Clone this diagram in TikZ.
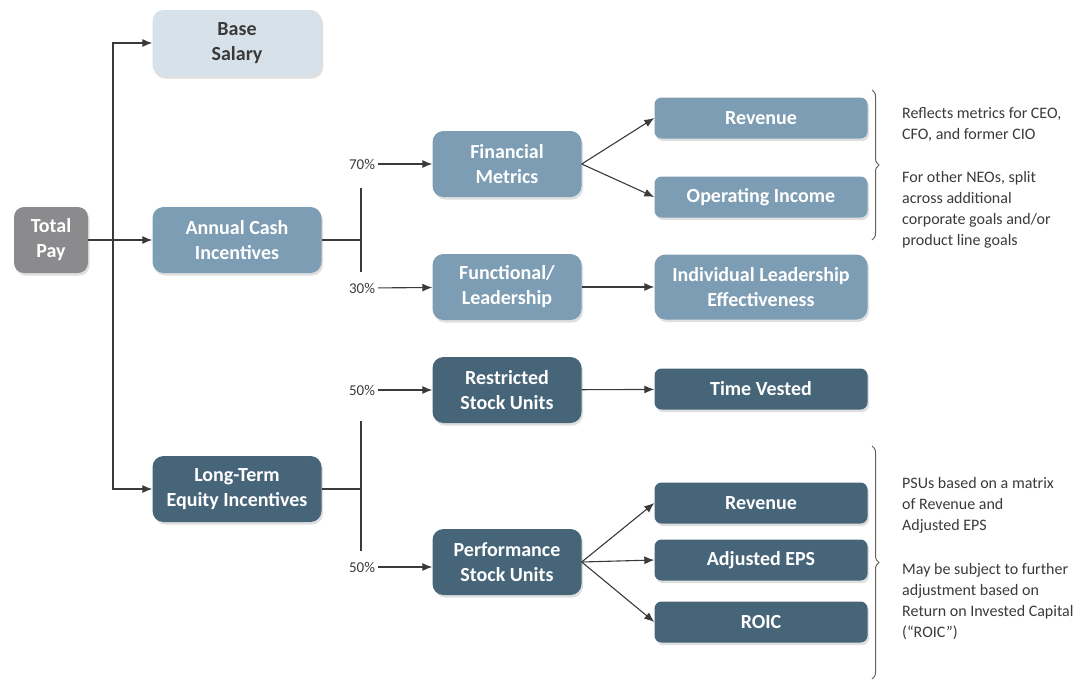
\documentclass[tikz,border=0pt]{standalone}
\usepackage{fontspec}
\setmainfont{Carlito}
\usepackage{xcolor}
\usetikzlibrary{arrows.meta, shadows, decorations.pathreplacing}

\definecolor{paygray}{HTML}{8B8B8E}
\definecolor{palebox}{HTML}{D6E1E9}
\definecolor{midbox}{HTML}{7D9DB4}
\definecolor{darkbox}{HTML}{476579}
\definecolor{inkgray}{HTML}{3A3A3A}

\tikzset{
	box/.style={rounded corners=11pt, inner sep=0pt, align=center, text=white,
		font=\bfseries\fontsize{20}{25}\selectfont,
		drop shadow={shadow xshift=1.5pt, shadow yshift=-2.5pt, opacity=0.25}},
	bigbox/.style={box, minimum width=169pt, minimum height=66pt},
	midcol/.style={box, minimum width=149pt, minimum height=66pt},
	leafbox/.style={box, rounded corners=7pt, minimum width=213pt, minimum height=41pt},
	pct/.style={font=\fontsize{15}{17}\selectfont, text=inkgray, inner sep=3pt},
	note/.style={font=\fontsize{16}{21}\selectfont, text=inkgray, align=left, anchor=north west, inner sep=0pt},
	link/.style={draw=inkgray, line width=1.1pt},
	arr/.style={link, -{Latex[length=10pt, width=8pt]}},
	curly/.style={draw=inkgray!80, line width=1pt, decorate, decoration={brace, amplitude=7pt}}
}

\begin{document}
\begin{tikzpicture}[x=1pt, y=-1pt]
		\useasboundingbox (0,0) rectangle (1079,681);
		\def\jx{113}
		\def\bx{361}
		
		\node [box, fill=paygray, minimum width=74pt, minimum height=66pt, rounded corners=10pt] (pay) at (51,240) {Total\\Pay};
		\node [bigbox, fill=palebox, text=inkgray] (base) at (237,43) {Base\\Salary};
		\node [bigbox, fill=midbox] (cash) at (237,240) {Annual Cash\\Incentives};
		\node [bigbox, fill=darkbox] (ltei) at (237,489) {Long-Term\\Equity Incentives};
		
		\node [midcol, fill=midbox] (fin) at (507,164) {Financial\\Metrics};
		\node [midcol, fill=midbox] (func) at (507,287) {Functional/\\Leadership};
		\node [midcol, fill=darkbox] (rsu) at (507,390) {Restricted\\Stock Units};
		\node [midcol, fill=darkbox] (psu) at (507,562) {Performance\\Stock Units};
		
		\node [leafbox, fill=midbox] (rev1) at (761,118) {Revenue};
		\node [leafbox, fill=midbox] (opinc) at (761,197) {Operating Income};
		\node [leafbox, fill=midbox, minimum height=65pt, rounded corners=11pt] (ile) at (761,287) {Individual Leadership\\Effectiveness};
		\node [leafbox, fill=darkbox] (tv) at (761,389) {Time Vested};
		\node [leafbox, fill=darkbox] (rev2) at (761,503) {Revenue};
		\node [leafbox, fill=darkbox] (eps) at (761,560) {Adjusted EPS};
		\node [leafbox, fill=darkbox] (roic) at (761,622) {ROIC};
		
		\node [pct] (p70) at (362,164) {70\%};
		\node [pct] (p30) at (362,288) {30\%};
		\node [pct] (p50a) at (362,390) {50\%};
		\node [pct] (p50b) at (362,567) {50\%};
		
		\coordinate (j) at (\jx,240);
		\coordinate (c1) at (\bx,240);
		\coordinate (c2) at (\bx,489);
		\coordinate (t1) at (\bx,188);
		\coordinate (b1) at (\bx,272);
		\coordinate (t2) at (\bx,421);
		\coordinate (b2) at (\bx,551);
		
		\draw [arr] (pay) -- (cash);
		\draw [arr] (j) |- (base);
		\draw [arr] (j) |- (ltei);
		
		\draw [link] (cash) -- (c1);
		\draw [link] (t1) -- (b1);
		\draw [link] (ltei) -- (c2);
		\draw [link] (t2) -- (b2);
		
		\draw [arr] (p70) -- (fin);
		\draw [arr] (p30) -- (func);
		\draw [arr] (p50a) -- (rsu);
		\draw [arr] (p50b.east) -- (psu.west |- p50b.east);
		
		\begin{scope}[arr]
			\foreach \n in {rev1, opinc}
				\draw (fin.east) -- (\n.west);
			\foreach \n in {rev2, eps, roic}
				\draw (psu.east) -- (\n.west);
			\draw (func) -- (ile);
			\draw (rsu) -- (tv);
		\end{scope}
		
		\coordinate (k1) at (872,90);
		\coordinate (k2) at (872,240);
		\coordinate (k3) at (872,446);
		\coordinate (k4) at (872,679);
		\draw [curly] (k1) -- (k2);
		\draw [curly] (k3) -- (k4);
		
		\node [note] (n1) at (902,107) {Reflects metrics for CEO,\\CFO, and former CIO};
		\node [note] (n2) at (902,171) {For other NEOs, split\\across additional\\corporate goals and/or\\product line goals};
		\node [note] (n3) at (902,477) {PSUs based on a matrix\\of Revenue and\\Adjusted EPS};
		\node [note] (n4) at (902,563) {May be subject to further\\adjustment based on\\Return on Invested Capital\\(“ROIC”)};
	\end{tikzpicture}
\end{document}
